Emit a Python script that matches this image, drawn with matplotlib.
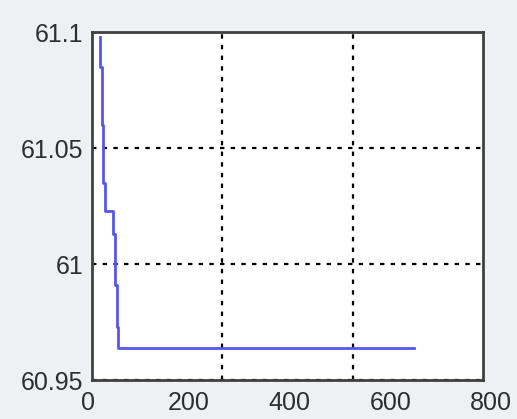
import matplotlib
matplotlib.use("Agg")
import matplotlib.pyplot as plt

# Data (iteration vs. best value), step changes
iters = [24, 24, 27, 30, 34, 50, 54, 57, 60, 647]
values = [61.098, 61.085, 61.060, 61.035, 61.023, 61.013, 60.991, 60.973, 60.964, 60.964]

y_ticks = [60.95, 61.0, 61.05, 61.1]
y_ticklabels = ["60.95", "61", "61.05", "61.1"]
x_ticks = [0, 200, 400, 600, 800]
x_ticklabels = ["0", "200", "400", "600", "800"]
grid_x = [266, 526]

plt.rcParams['font.family'] = ['Liberation Sans', 'DejaVu Sans']

W, H = 517, 419
fig = plt.figure(figsize=(W / 100, H / 100), dpi=100)
fig.patch.set_facecolor('#eef0f3')

ax = fig.add_axes([92 / W, 1 - 380 / H, 391 / W, 348 / H])
ax.set_facecolor('white')
ax.plot(iters, values, drawstyle='steps-post', color='#5656e8', lw=2.0, zorder=3)
ax.set_xlim(8, 784)
ax.set_ylim(60.95, 61.1)
ax.set_yticks(y_ticks)
ax.set_yticklabels(y_ticklabels)
ax.set_xticks(grid_x)
ax.set_xticklabels([])
ax.tick_params(axis='both', length=0, labelsize=18, colors='#2e2e2e', pad=6)
ax.grid(True, color='black', linestyle=(0, (2, 2.8)), linewidth=1.6)
for s in ax.spines.values():
    s.set_linewidth(2)
    s.set_color('#404040')

# tick label axis for x
lab = fig.add_axes([88 / W, 1 - 380 / H, 403 / W, 0.0001])
lab.set_xlim(0, 800)
lab.set_xticks(x_ticks)
lab.set_xticklabels(x_ticklabels)
lab.set_yticks([])
lab.patch.set_alpha(0)
for s in lab.spines.values():
    s.set_visible(False)
lab.tick_params(axis='x', length=0, labelsize=18, colors='#2e2e2e', pad=8)

fig.savefig('out.png', dpi=100, facecolor=fig.get_facecolor())
